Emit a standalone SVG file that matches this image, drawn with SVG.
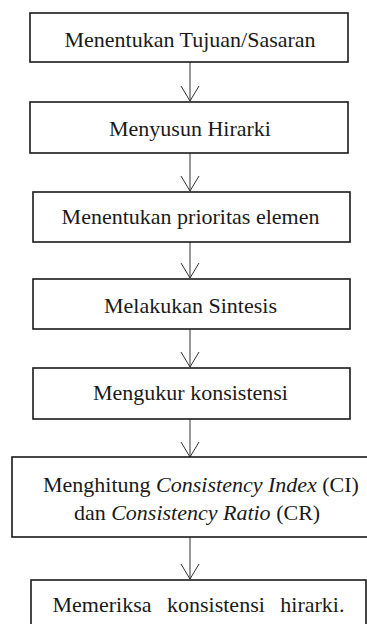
<svg xmlns="http://www.w3.org/2000/svg" width="367" height="624" viewBox="0 0 367 624">
<defs>
<style>
.box{fill:#fff;stroke:#1a1a1a;stroke-width:1.6}
.t{font-family:"Liberation Serif","Times New Roman",Times,serif;font-size:22px;fill:#1a1a1a;text-anchor:middle}
.i{font-style:italic}
.c{stroke:#333;stroke-width:1;fill:none}
</style>
</defs>
<rect width="367" height="624" fill="#fff"/>
<g id="connectors">
<line class="c" x1="190" y1="62" x2="190" y2="101"/>
<path class="c" d="M181,86 L190,101 L199,86"/>
<line class="c" x1="190" y1="153" x2="190" y2="191"/>
<path class="c" d="M181,176 L190,191 L199,176"/>
<line class="c" x1="190" y1="242" x2="190" y2="278"/>
<path class="c" d="M181,263 L190,278 L199,263"/>
<line class="c" x1="190" y1="329" x2="190" y2="367"/>
<path class="c" d="M181,352 L190,367 L199,352"/>
<line class="c" x1="190" y1="419" x2="190" y2="457"/>
<path class="c" d="M181,442 L190,457 L199,442"/>
<line class="c" x1="190" y1="537" x2="190" y2="579"/>
<path class="c" d="M181,564 L190,579 L199,564"/>
</g>
<g id="n1"><rect class="box" x="30" y="13" width="318" height="49"/><text class="t" x="190" y="46.5">Menentukan Tujuan/Sasaran</text></g>
<g id="n2"><rect class="box" x="30" y="102" width="318" height="51"/><text class="t" x="190" y="136">Menyusun Hirarki</text></g>
<g id="n3"><rect class="box" x="33" y="192" width="317" height="50"/><text class="t" x="190.5" y="224">Menentukan prioritas elemen</text></g>
<g id="n4"><rect class="box" x="33" y="279" width="317" height="50"/><text class="t" x="190.5" y="312.5">Melakukan Sintesis</text></g>
<g id="n5"><rect class="box" x="33" y="368" width="317" height="51"/><text class="t" x="190.5" y="400">Mengukur konsistensi</text></g>
<g id="n6"><rect class="box" x="12" y="457" width="380" height="80"/>
<text class="t" x="201" y="491.5">Menghitung <tspan class="i">Consistency Index</tspan> (CI)</text>
<text class="t" x="197" y="519.5">dan <tspan class="i">Consistency Ratio</tspan> (CR)</text></g>
<g id="n7"><rect class="box" x="31" y="580" width="335" height="60"/><text class="t" x="198.5" y="611.5" word-spacing="10">Memeriksa konsistensi hirarki.</text></g>
</svg>
